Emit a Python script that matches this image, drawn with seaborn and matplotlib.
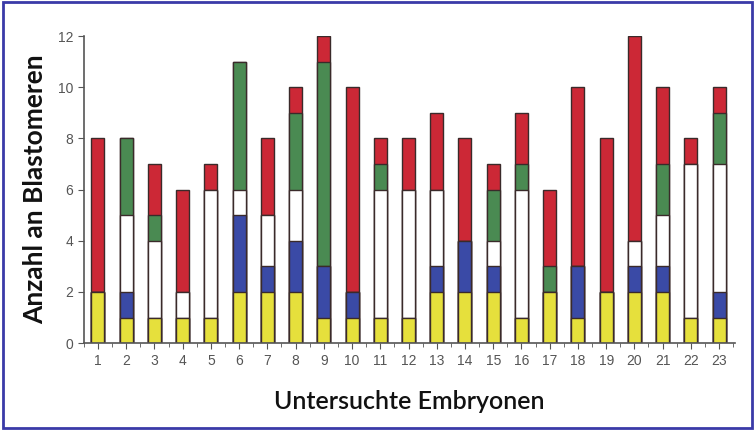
import numpy as np
import pandas as pd
import seaborn as sns
import matplotlib.pyplot as plt
from matplotlib.patches import Rectangle

embryos = [str(i) for i in range(1, 24)]
gelb = [2, 1, 1, 1, 1, 2, 2, 2, 1, 1, 1, 1, 2, 2, 2, 1, 2, 1, 2, 2, 2, 1, 1]
blau = [0, 1, 0, 0, 0, 3, 1, 2, 2, 1, 0, 0, 1, 2, 1, 0, 0, 2, 0, 1, 1, 0, 1]
weiss = [0, 3, 3, 1, 5, 1, 2, 2, 0, 0, 5, 5, 3, 0, 1, 5, 0, 0, 0, 1, 2, 6, 5]
gruen = [0, 3, 1, 0, 0, 5, 0, 3, 8, 0, 1, 0, 0, 0, 2, 1, 1, 0, 0, 0, 2, 0, 2]
rot = [6, 0, 2, 4, 1, 0, 3, 1, 1, 8, 1, 2, 3, 4, 1, 2, 3, 7, 6, 8, 3, 1, 1]

layers = [('gelb', gelb, '#e6e03c'), ('blau', blau, '#3a4aa6'),
          ('weiss', weiss, '#ffffff'), ('gruen', gruen, '#4a8a52'),
          ('rot', rot, '#cc2836')]

df = pd.DataFrame({'embryo': embryos})
cum = np.zeros(len(embryos))
for name, vals, _ in layers:
    cum = cum + np.array(vals)
    df[name] = cum

sns.set_style('ticks')
plt.rcParams['font.family'] = ['Liberation Sans', 'DejaVu Sans']

fig = plt.figure(figsize=(7.55, 4.3), dpi=100)
ax = fig.add_axes([0.111, 0.202, 0.862, 0.714])

# draw cumulative totals from the top layer down so they stack
for name, _, color in reversed(layers):
    sns.barplot(data=df, x='embryo', y=name, color=color, width=0.46,
                edgecolor='#3a2a2a', linewidth=1.0, saturation=1, ax=ax)

ax.set_ylim(0, 12)
ax.set_xlim(-0.46, 22.55)
ax.set_yticks(range(0, 13, 2))
ax.set_xticks(np.arange(-0.5, 23, 1.0), minor=True)
for s in ['top', 'right']:
    ax.spines[s].set_visible(False)
for s in ['left', 'bottom']:
    ax.spines[s].set_color('#555555')
    ax.spines[s].set_linewidth(1.2)
ax.tick_params(axis='both', colors='#555555', labelsize=10, length=4)
ax.tick_params(axis='x', which='minor', colors='#555555', length=3)
ax.tick_params(axis='both', labelcolor='#555555')

ax.set_xlabel('Untersuchte Embryonen', fontsize=18, family=['Lato', 'DejaVu Sans'],
              fontweight='semibold', color='#111111', labelpad=16)
ax.set_ylabel('Anzahl an Blastomeren', fontsize=19, family=['Lato', 'DejaVu Sans'],
              fontweight='bold', color='#111111', labelpad=8)

fig.patches.append(Rectangle((0.004, 0.005), 0.992, 0.99, transform=fig.transFigure,
                             fill=False, edgecolor='#3a3aa8', linewidth=2))

fig.savefig('out.png', dpi=100)
